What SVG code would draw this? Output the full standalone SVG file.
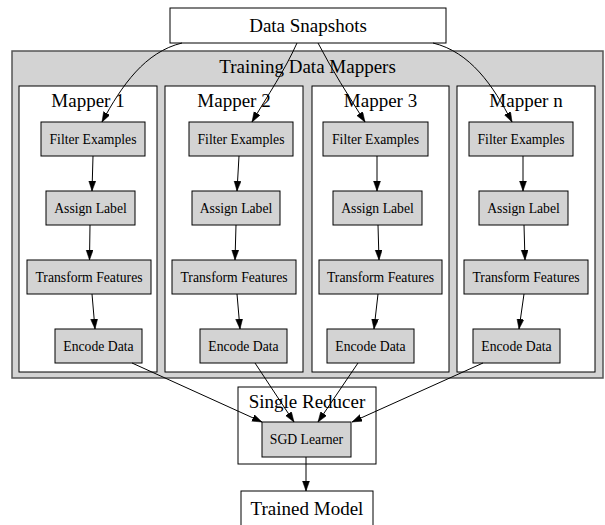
<svg xmlns="http://www.w3.org/2000/svg" width="605" height="525" viewBox="0 0 605 525">
  <style>
    .box { fill: #ffffff; stroke: #000000; stroke-width: 1; }
    .step { fill: #d3d3d3; stroke: #000000; stroke-width: 1; }
    .outer { fill: #d3d3d3; stroke: #555555; stroke-width: 1.5; }
    .cluster { fill: #ffffff; stroke: #000000; stroke-width: 1; }
    .big { font-family: "Liberation Serif", "Times New Roman", serif; font-size: 19px; fill: #000000; text-anchor: middle; }
    .small { font-family: "Liberation Serif", "Times New Roman", serif; font-size: 13.7px; fill: #000000; text-anchor: middle; }
    .edge { fill: none; stroke: #000000; stroke-width: 1; marker-end: url(#arrow); }
  </style>
  <defs>
    <marker id="arrow" markerUnits="userSpaceOnUse" markerWidth="11" markerHeight="8" refX="10" refY="3.5" orient="auto">
      <path d="M0,0 L10,3.5 L0,7 z" fill="#000000" stroke="#000000" stroke-width="0.5"/>
    </marker>
  </defs>

  <!-- Training Data Mappers cluster -->
  <g id="training-data-mappers">
    <rect class="outer" x="12" y="51" width="591" height="327"/>
    <text class="big" x="307.5" y="72.5">Training Data Mappers</text>
  </g>

  <!-- Mapper 1 -->
  <g id="mapper-1">
    <rect class="cluster" x="19" y="86" width="138" height="286"/>
    <text class="big" x="88" y="107">Mapper 1</text>
    <g id="m1-filter"><rect class="step" x="41" y="122" width="104" height="34"/><text class="small" x="93" y="143.5">Filter Examples</text></g>
    <g id="m1-assign"><rect class="step" x="46" y="191" width="89" height="34"/><text class="small" x="90.5" y="212.5">Assign Label</text></g>
    <g id="m1-transform"><rect class="step" x="27" y="260" width="124" height="34"/><text class="small" x="89" y="281.5">Transform Features</text></g>
    <g id="m1-encode"><rect class="step" x="55" y="329" width="87" height="34"/><text class="small" x="98.5" y="350.5">Encode Data</text></g>
  </g>

  <!-- Mapper 2 -->
  <g id="mapper-2">
    <rect class="cluster" x="165" y="86" width="138" height="286"/>
    <text class="big" x="234" y="107">Mapper 2</text>
    <g id="m2-filter"><rect class="step" x="189" y="122" width="104" height="34"/><text class="small" x="241" y="143.5">Filter Examples</text></g>
    <g id="m2-assign"><rect class="step" x="192" y="191" width="88" height="34"/><text class="small" x="236" y="212.5">Assign Label</text></g>
    <g id="m2-transform"><rect class="step" x="172" y="260" width="124" height="34"/><text class="small" x="234" y="281.5">Transform Features</text></g>
    <g id="m2-encode"><rect class="step" x="200" y="329" width="87" height="34"/><text class="small" x="243.5" y="350.5">Encode Data</text></g>
  </g>

  <!-- Mapper 3 -->
  <g id="mapper-3">
    <rect class="cluster" x="312" y="86" width="137" height="286"/>
    <text class="big" x="380.5" y="107">Mapper 3</text>
    <g id="m3-filter"><rect class="step" x="323" y="122" width="105" height="34"/><text class="small" x="375.5" y="143.5">Filter Examples</text></g>
    <g id="m3-assign"><rect class="step" x="333" y="191" width="89" height="34"/><text class="small" x="377.5" y="212.5">Assign Label</text></g>
    <g id="m3-transform"><rect class="step" x="319" y="260" width="123" height="34"/><text class="small" x="380.5" y="281.5">Transform Features</text></g>
    <g id="m3-encode"><rect class="step" x="327" y="329" width="87" height="34"/><text class="small" x="370.5" y="350.5">Encode Data</text></g>
  </g>

  <!-- Mapper n -->
  <g id="mapper-n">
    <rect class="cluster" x="457" y="86" width="138" height="286"/>
    <text class="big" x="526" y="107">Mapper n</text>
    <g id="mn-filter"><rect class="step" x="469" y="122" width="104" height="34"/><text class="small" x="521" y="143.5">Filter Examples</text></g>
    <g id="mn-assign"><rect class="step" x="479" y="191" width="89" height="34"/><text class="small" x="523.5" y="212.5">Assign Label</text></g>
    <g id="mn-transform"><rect class="step" x="464" y="260" width="124" height="34"/><text class="small" x="526" y="281.5">Transform Features</text></g>
    <g id="mn-encode"><rect class="step" x="473" y="329" width="87" height="34"/><text class="small" x="516.5" y="350.5">Encode Data</text></g>
  </g>

  <!-- Data Snapshots -->
  <g id="data-snapshots">
    <rect class="box" x="170" y="8" width="276" height="35"/>
    <text class="big" x="308" y="32">Data Snapshots</text>
  </g>

  <!-- Single Reducer cluster -->
  <g id="single-reducer">
    <rect class="cluster" x="238" y="387" width="138" height="77"/>
    <text class="big" x="307" y="408">Single Reducer</text>
    <g id="sgd-learner"><rect class="step" x="262" y="422" width="89" height="35"/><text class="small" x="306.5" y="444">SGD Learner</text></g>
  </g>

  <!-- Trained Model -->
  <g id="trained-model">
    <rect class="box" x="241" y="491" width="132" height="45"/>
    <text class="big" x="307" y="515">Trained Model</text>
  </g>

  <!-- Connectors -->
  <g id="connectors">
    <!-- snapshots to mappers -->
    <path class="edge" d="M182,43 C145,52 122,85 102,122"/>
    <path class="edge" d="M297,43 C285,70 268,95 252,122"/>
    <path class="edge" d="M318,43 C332,70 348,95 365,122"/>
    <path class="edge" d="M433,43 C470,52 493,85 512,122"/>

    <!-- mapper 1 pipeline -->
    <path class="edge" d="M93,156 L92,191"/>
    <path class="edge" d="M90,225 L89.5,260"/>
    <path class="edge" d="M92,294 L95,329"/>
    <!-- mapper 2 pipeline -->
    <path class="edge" d="M239,156 L237,191"/>
    <path class="edge" d="M236,225 L235,260"/>
    <path class="edge" d="M237,294 L240,329"/>
    <!-- mapper 3 pipeline -->
    <path class="edge" d="M377,156 L377,191"/>
    <path class="edge" d="M378,225 L379,260"/>
    <path class="edge" d="M378,294 L374,329"/>
    <!-- mapper n pipeline -->
    <path class="edge" d="M523,156 L523,191"/>
    <path class="edge" d="M524,225 L525,260"/>
    <path class="edge" d="M524,294 L519,329"/>

    <!-- mappers to reducer -->
    <path class="edge" d="M132,363 L262,422"/>
    <path class="edge" d="M255,363 L294,422"/>
    <path class="edge" d="M358,363 L318,422"/>
    <path class="edge" d="M483,363 L352,422"/>

    <!-- reducer to model -->
    <path class="edge" d="M306,457 L306,491"/>
  </g>
</svg>
